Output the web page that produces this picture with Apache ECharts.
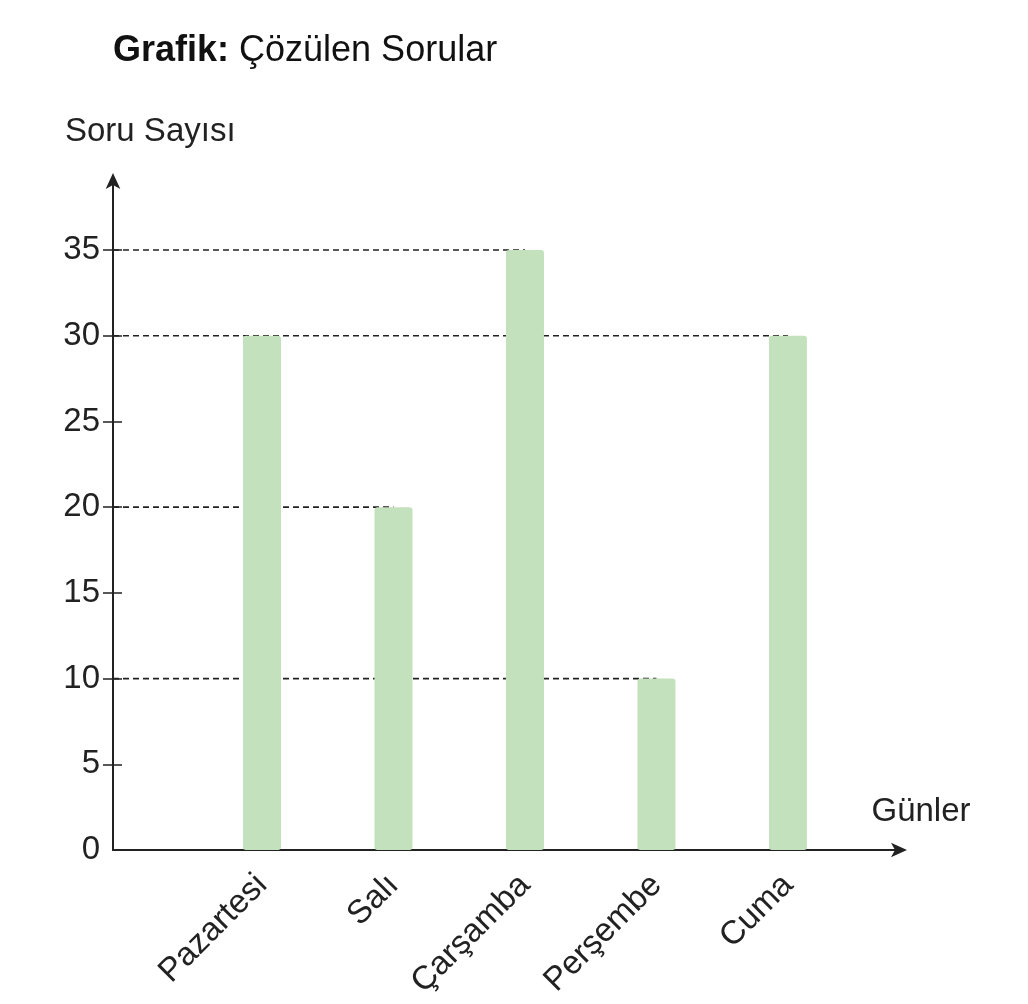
<!DOCTYPE html>
<html>
<head>
<meta charset="utf-8">
<script src="https://cdn.jsdelivr.net/npm/echarts@6/dist/echarts.min.js"></script>
<style>
html, body { margin: 0; padding: 0; background: #fff; }
#chart { width: 1028px; height: 1004px; }
</style>
</head>
<body>
<div id="chart"></div>
<script>
// veriler
var gunler = ['Pazartesi', 'Salı', 'Çarşamba', 'Perşembe', 'Cuma'];
var soruSayisi = [30, 20, 35, 10, 30];
var yEtiketler = [0, 5, 10, 15, 20, 25, 30, 35];
var yCizgiler = [5, 10, 15, 20, 25, 30, 35];

var xMin = -0.133, xMax = 5.875;
var font = '"Liberation Sans", Arial, sans-serif';

var chart = echarts.init(document.getElementById('chart'));

// bar noktalari: x = gun sirasi (1..5)
var barData = [];
for (var i = 0; i < gunler.length; i++) {
    barData.push([i + 1, soruSayisi[i]]);
}

// kesikli cizgiler: her deger icin eksenden en sagdaki o degerli bara kadar
var cizgiSeries = [];
var goruldu = [];
for (var i = 0; i < soruSayisi.length; i++) {
    var v = soruSayisi[i];
    if (goruldu.indexOf(v) >= 0) continue;
    goruldu.push(v);
    var son = soruSayisi.lastIndexOf(v);
    cizgiSeries.push({
        type: 'line',
        z: 1,
        silent: true,
        symbol: 'none',
        lineStyle: { color: '#222', width: 1.6, type: [6, 4] },
        data: [[xMin, v], [son + 1, v]]
    });
}

var option = {
    backgroundColor: '#fff',
    animation: false,
    title: {
        left: 108,
        top: 28,
        text: '{b|Grafik:} Çözülen Sorular',
        textStyle: {
            fontFamily: font,
            fontSize: 36,
            fontWeight: 'normal',
            color: '#111',
            rich: {
                b: { fontFamily: font, fontSize: 36, fontWeight: 'bold', color: '#111' }
            }
        }
    },
    grid: {
        left: 113,
        right: 125,
        top: 177,
        bottom: 154
    },
    xAxis: {
        type: 'value',
        min: xMin,
        max: xMax,
        name: 'Günler',
        nameLocation: 'end',
        nameGap: 18,
        nameTextStyle: {
            fontFamily: font,
            fontSize: 33,
            color: '#222',
            align: 'center',
            verticalAlign: 'bottom',
            padding: [0, 0, 22, 0]
        },
        splitLine: { show: false },
        axisLine: {
            onZero: false,
            lineStyle: { color: '#222', width: 2 },
            symbol: ['none', 'arrow'],
            symbolSize: [11, 16],
            symbolOffset: [0, 4]
        },
        axisTick: { show: false },
        axisLabel: {
            customValues: [1, 2, 3, 4, 5],
            formatter: function (v) { return gunler[Math.round(v) - 1] || ''; },
            rotate: 45,
            margin: 30,
            fontFamily: font,
            fontSize: 33,
            color: '#222'
        }
    },
    yAxis: [{
        type: 'value',
        min: 0,
        max: 39.26,
        name: 'Soru Sayısı',
        nameLocation: 'end',
        nameGap: 29,
        nameTextStyle: {
            fontFamily: font,
            fontSize: 33,
            color: '#222',
            align: 'left',
            padding: [0, 0, 0, -48]
        },
        splitLine: { show: false },
        axisLine: {
            show: true,
            onZero: false,
            lineStyle: { color: '#222', width: 2 },
            symbol: ['none', 'arrow'],
            symbolSize: [11, 16],
            symbolOffset: [0, 4]
        },
        axisTick: {
            show: true,
            customValues: yCizgiler,
            length: 10,
            lineStyle: { color: '#222', width: 1.5 }
        },
        axisLabel: {
            customValues: yEtiketler,
            margin: 13,
            fontFamily: font,
            fontSize: 33,
            color: '#222'
        }
    }, {
        type: 'value',
        min: 0,
        max: 39.26,
        position: 'left',
        splitLine: { show: false },
        axisLine: { show: false, onZero: false },
        axisTick: {
            show: true,
            inside: true,
            customValues: yCizgiler,
            length: 9,
            lineStyle: { color: '#222', width: 1.5 }
        },
        axisLabel: { show: false }
    }],
    series: [{
        type: 'bar',
        z: 3,
        barWidth: 38,
        itemStyle: { color: '#c3e1bc', borderRadius: 3 },
        data: barData
    }].concat(cizgiSeries)
};

chart.setOption(option);
</script>
</body>
</html>
